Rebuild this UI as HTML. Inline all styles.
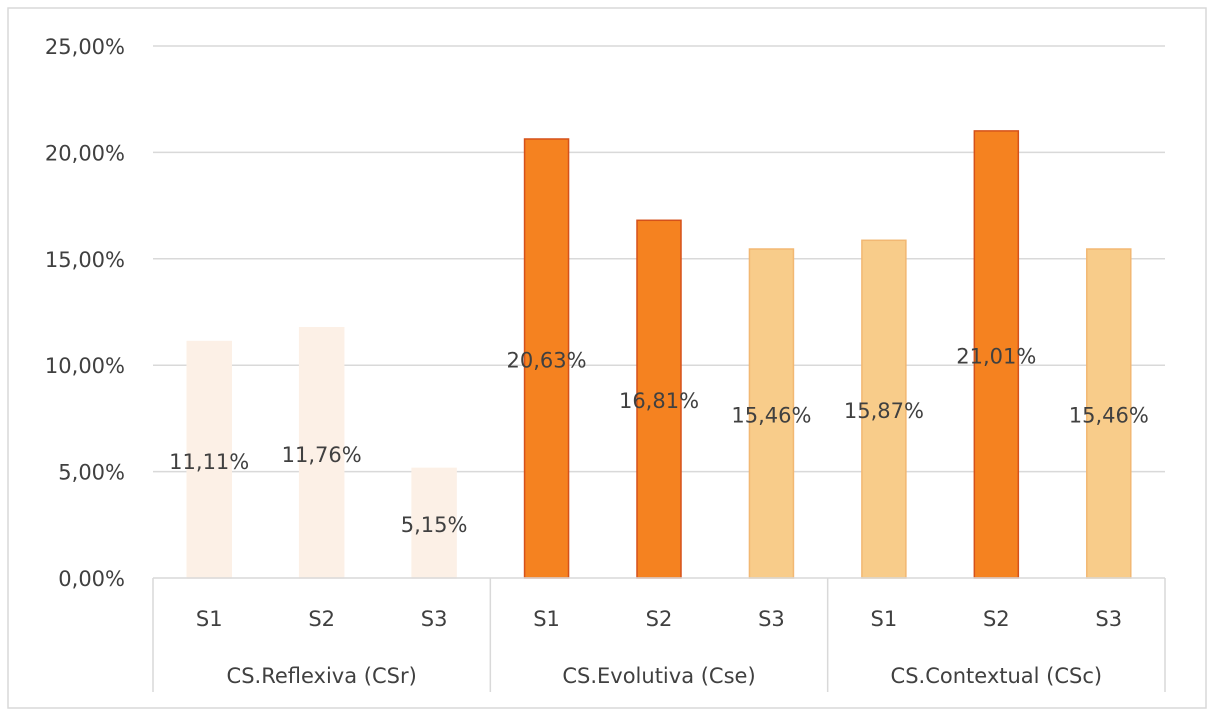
<!DOCTYPE html>
<html><head><meta charset="utf-8"><style>
body{margin:0;background:#fff;width:1216px;height:722px;overflow:hidden}
svg text{font-family:"DejaVu Sans","Liberation Sans",sans-serif;fill:#404040}
</style></head><body>
<svg width="1216" height="722">
<rect x="8" y="8" width="1198" height="700" fill="#fff" stroke="#d9d9d9" stroke-width="1.5"/>
<g id="grid"></g><g id="bars"></g><g id="labels"></g><g id="axis"></g>
</svg>
<script>
const groups=["CS.Reflexiva (CSr)","CS.Evolutiva (Cse)","CS.Contextual (CSc)"];
const categories=["S1","S2","S3","S1","S2","S3","S1","S2","S3"];
const values=[11.11,11.76,5.15,20.63,16.81,15.46,15.87,21.01,15.46];
const colorIdx=[0,0,0,1,1,2,2,1,2];
const ticks=[0,5,10,15,20,25];
const tickLabels=["0,00%","5,00%","10,00%","15,00%","20,00%","25,00%"];
const fills=["#fcf0e6","#f58220","#f8cc8a"],strokes=["#fcf0e6","#d5511a","#f2b873"];
const X0=153,X1=1165,Y0=578,Y1=46,MAX=25;
const y=v=>Y0-(v/MAX)*(Y0-Y1);
const step=(X1-X0)/categories.length;
const xc=i=>X0+step*(i+0.5);
const NS="http://www.w3.org/2000/svg";
function mk(p,t,a){const e=document.createElementNS(NS,t);for(const k in a)e.setAttribute(k,a[k]);p.appendChild(e);return e;}
const G=document.getElementById("grid"),B=document.getElementById("bars"),L=document.getElementById("labels"),A=document.getElementById("axis");
ticks.forEach((t,i)=>{
 if(i>0){const l=mk(G,"line",{x1:X0,x2:X1,y1:y(t),y2:y(t),stroke:"#d9d9d9","stroke-width":1.5});
 
 }
 const tx=mk(A,"text",{x:125,y:y(t)+8,"text-anchor":"end","font-size":21});tx.textContent=tickLabels[i];
 
 
});
values.forEach((v,i)=>{
 const c=colorIdx[i];
 const r=mk(B,"rect",{x:xc(i)-22,y:y(v),width:44,height:Y0-y(v),fill:fills[c],stroke:strokes[c],"stroke-width":1.5});
 
 
 const t=mk(L,"text",{x:xc(i),y:(y(v)+Y0)/2+9,"text-anchor":"middle","font-size":21});
 t.textContent=v.toFixed(2).replace('.',',')+'%';
 
 
 const s=mk(A,"text",{x:xc(i),y:626,"text-anchor":"middle","font-size":21});s.textContent=categories[i];
 
 
});
const ax=mk(A,"line",{x1:X0,x2:X1,y1:Y0,y2:Y0,stroke:"#d9d9d9","stroke-width":1.5});


for(let g=0;g<=groups.length;g++){
 const xx=X0+step*3*g;
 const d=mk(A,"line",{x1:xx,x2:xx,y1:Y0,y2:692,stroke:"#d9d9d9","stroke-width":1.5});
 
 
 if(g<groups.length){const t=mk(A,"text",{x:xx+step*1.5,y:683,"text-anchor":"middle","font-size":21});t.textContent=groups[g];
 
 }
}
</script>
</body></html>
